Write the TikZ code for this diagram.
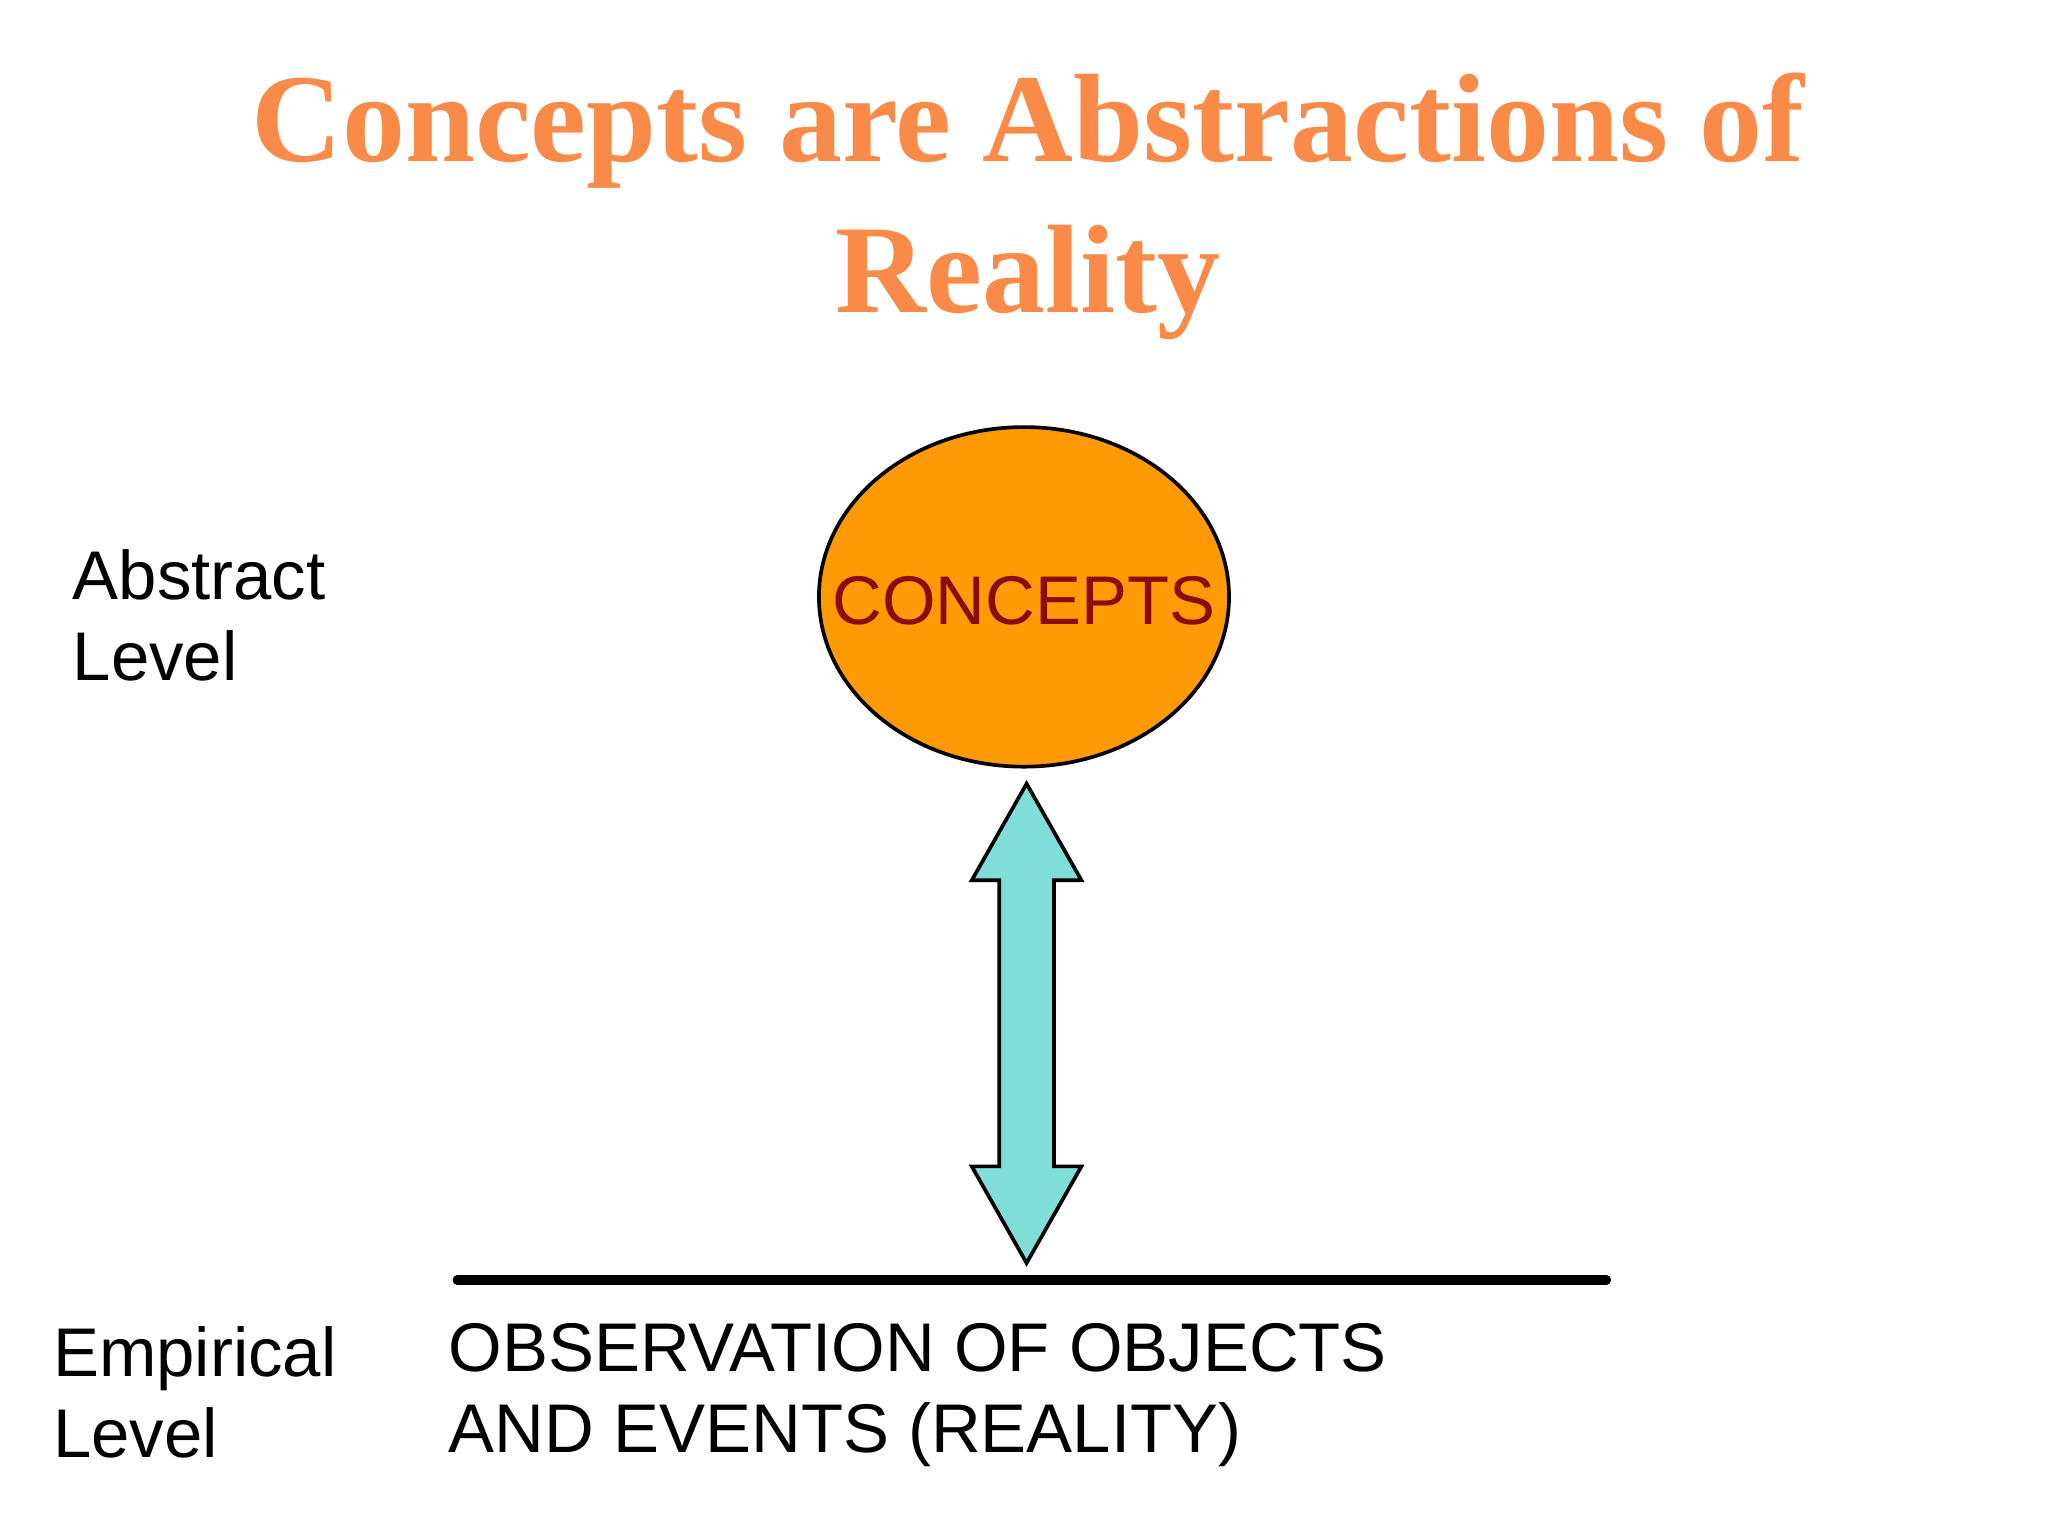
\documentclass[tikz,border=0pt]{standalone}
\usepackage{fontspec}
\setmainfont{Liberation Sans}
\newfontfamily\titlefont{Liberation Serif}
\definecolor{ttl}{HTML}{F98A48}
\definecolor{conc}{HTML}{FE9A05}
\definecolor{cyanarr}{HTML}{80DED9}
\definecolor{dred}{HTML}{8B0A0A}
\begin{document}
\begin{tikzpicture}[x=0.01cm,y=-0.01cm,
  lbl/.style={anchor=west,align=left,font=\fontsize{15}{17.6}\selectfont,inner sep=0pt},
  ]
\useasboundingbox (0,0) rectangle (1568,1176);
\node (t) at (787,158) [align=center,text=ttl,font=\titlefont\bfseries\fontsize{27.4}{33}\selectfont] {Concepts are Abstractions of\\Reality};
\draw[fill=conc,line width=0.8pt] (784,457) ellipse [x radius=157,y radius=130];
\node (c) [text=dred,font=\fontsize{15}{18}\selectfont] at (784,460) {CONCEPTS};
\draw[fill=cyanarr,line width=0.8pt] (786,600) -- (828,674) -- (807,674) -- (807,893) -- (828,893) -- (786,967) -- (744,893) -- (765,893) -- (765,674) -- (744,674) -- cycle;
\draw[line width=2pt,line cap=round] (350,980) -- (1230,980);
\node[lbl] (a) at (55,471) {Abstract\\Level};
\node[lbl] (e) at (40,1066) {Empirical\\Level};
\node[lbl] (o) at (343,1068) {OBSERVATION OF OBJECTS\\AND EVENTS (REALITY)};
\end{tikzpicture}
\end{document}
